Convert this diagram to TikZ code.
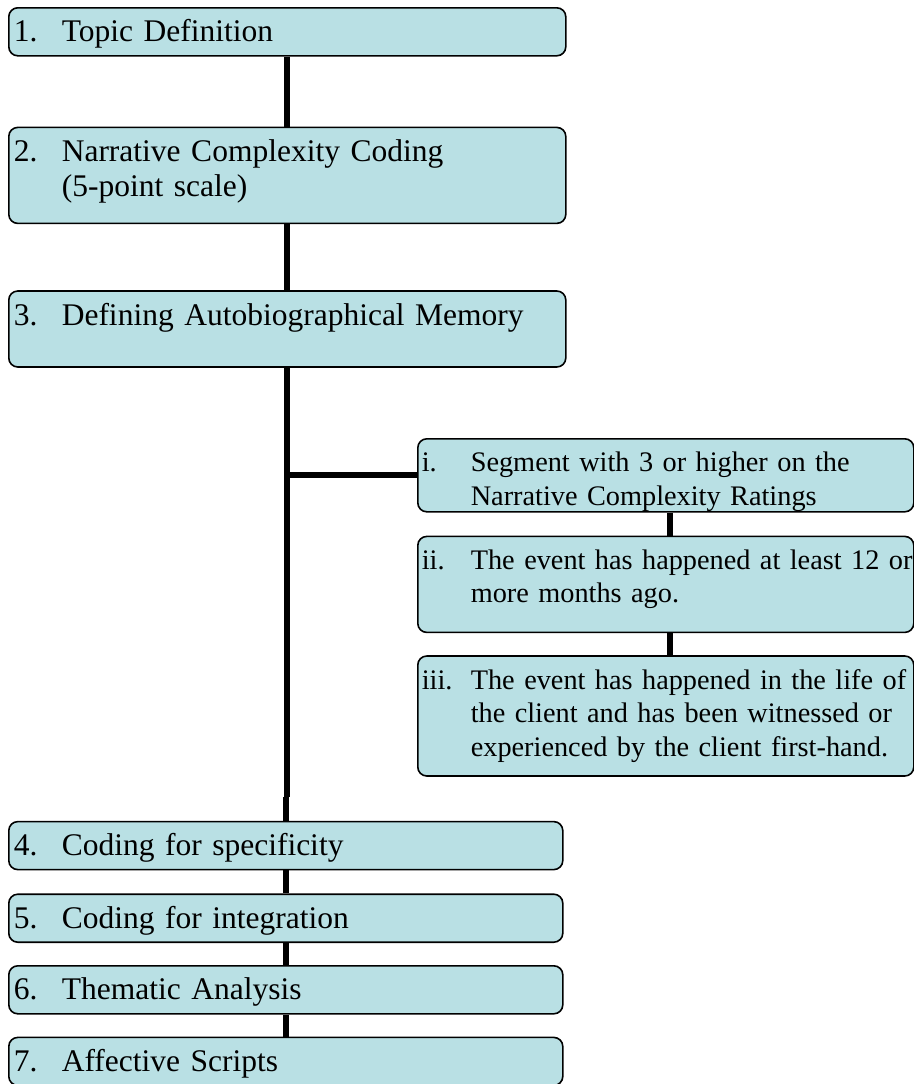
\documentclass[tikz,border=0pt]{standalone}
\usepackage{fontspec}
\setmainfont{Liberation Serif}
\usetikzlibrary{positioning}
\definecolor{boxfill}{RGB}{185,224,228}
\newcommand{\numitem}[3]{\makebox[#1][l]{#2}\begin{tabular}[t]{@{}l@{}}#3\end{tabular}}
\newcommand{\stepitem}[2]{\numitem{48pt}{#1}{#2}}
\newcommand{\critem}[2]{\numitem{49pt}{#1}{#2}}

\begin{document}
\begin{tikzpicture}[
    x=1pt, y=1pt,
    mainbox/.style={
      rectangle, draw, line width=1.6pt, rounded corners=9pt,
      fill=boxfill, inner xsep=5pt, inner ysep=4pt,
      text width=547pt, text height=30pt,
      align=left, font=\fontsize{31.5}{35}\selectfont
    },
    lowbox/.style={mainbox, text width=544pt, text depth=10pt},
    subbox/.style={
      rectangle, draw, line width=1.6pt, rounded corners=9pt,
      fill=boxfill, inner xsep=4pt, inner ysep=4pt,
      text width=488pt, text height=29pt,
      align=left, font=\fontsize{28.3}{33.5}\selectfont
    },
    link/.style={line width=6pt}
  ]
  \useasboundingbox (0,0) rectangle (913,-1084);

  % Upper steps
  \node[mainbox, text depth=10pt, anchor=north west] (topic) at (8,-7)
    {\stepitem{1.}{Topic Definition}};
  \node[mainbox, text depth=58pt, below=70pt of topic] (narr)
    {\stepitem{2.}{Narrative Complexity Coding\\(5-point scale)}};
  \node[mainbox, text depth=38pt, below=66pt of narr] (abm)
    {\stepitem{3.}{Defining Autobiographical Memory}};

  % Memory criteria
  \node[subbox, text depth=36pt, anchor=north west] (critA) at (417,-438)
    {\critem{i.}{Segment with 3 or higher on the\\Narrative Complexity Ratings}};
  \node[subbox, text depth=59pt, below=23pt of critA] (critB)
    {\critem{ii.}{The event has happened at least 12 or\\more months ago.}};
  \node[subbox, text depth=83pt, below=22pt of critB] (critC)
    {\critem{iii.}{The event has happened in the life of\\the client and has been witnessed or\\experienced by the client first-hand.}};

  % Lower steps
  \node[lowbox, below=453pt of abm.south west, anchor=north west] (spec)
    {\stepitem{4.}{Coding for specificity}};
  \node[lowbox, below=23pt of spec.south west, anchor=north west] (integ)
    {\stepitem{5.}{Coding for integration}};
  \node[lowbox, below=22pt of integ.south west, anchor=north west] (theme)
    {\stepitem{6.}{Thematic Analysis}};
  \node[lowbox, below=22pt of theme.south west, anchor=north west] (affect)
    {\stepitem{7.}{Affective Scripts}};

  % Spine
  \coordinate (jog) at ([yshift=24pt]spec.north);
  \draw[link] (topic.south) -- (narr.north);
  \draw[link] (narr.south) -- (abm.north);
  \draw[link] (abm.south) -- (abm.south |- jog);
  \draw[link] (jog) -- (spec.north);
  \draw[link] (spec.south) -- (integ.north);
  \draw[link] (integ.south) -- (theme.north);
  \draw[link] (theme.south) -- (affect.north);

  % Branch to criteria
  \draw[link] (critA.west) -- (critA.west -| abm.south);
  \draw[link] ([xshift=4pt]critA.south) -- ([xshift=4pt]critB.north);
  \draw[link] ([xshift=4pt]critB.south) -- ([xshift=4pt]critC.north);

\end{tikzpicture}
\end{document}
